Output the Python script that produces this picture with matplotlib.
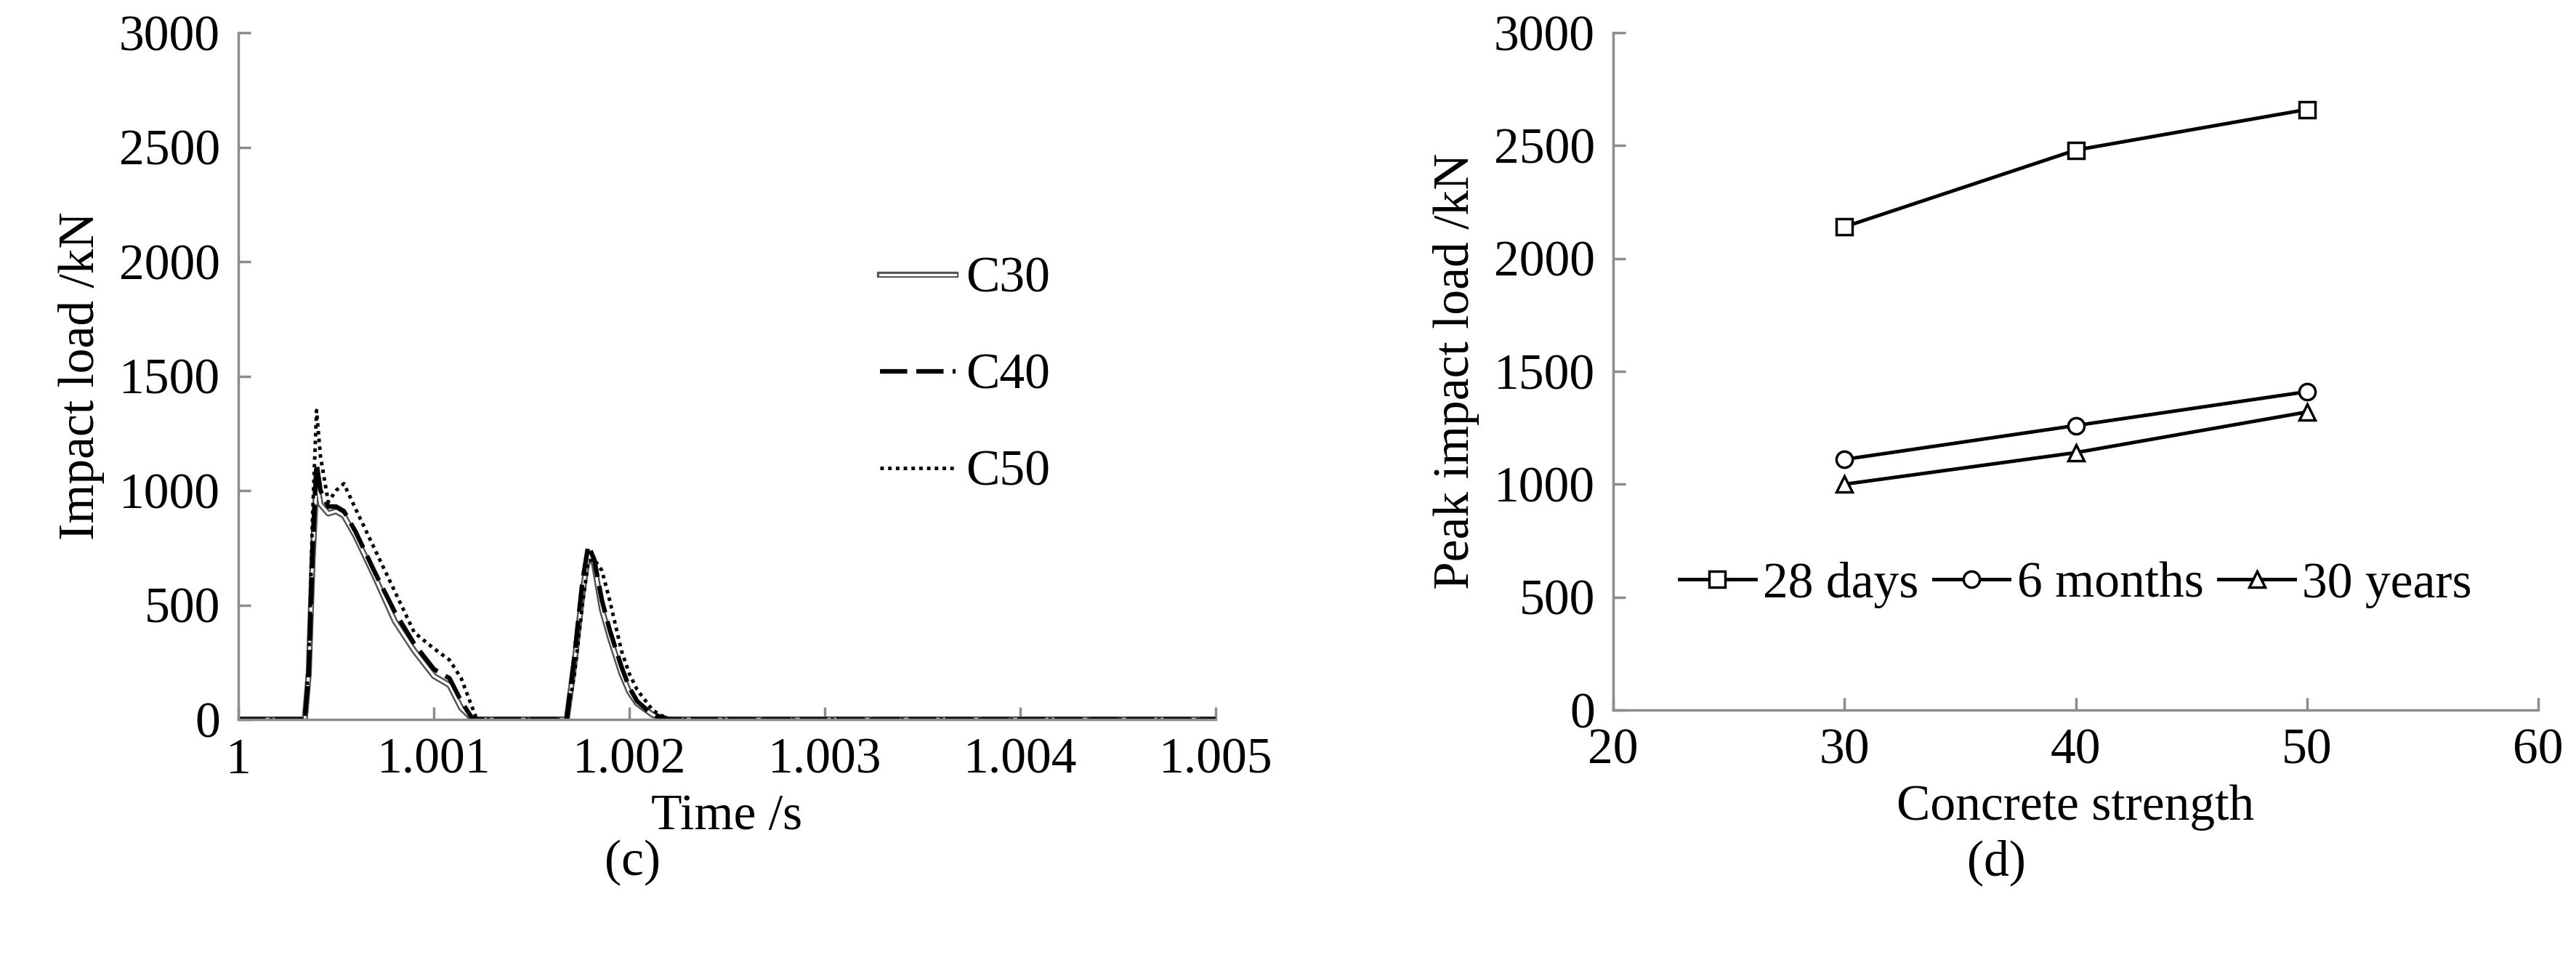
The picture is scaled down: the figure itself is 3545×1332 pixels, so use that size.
import matplotlib
matplotlib.use("Agg")
import matplotlib.pyplot as plt
import matplotlib.patheffects as pe

plt.rcParams['font.family'] = ['Liberation Serif', 'DejaVu Serif']
plt.rcParams['font.size'] = 50

# Left panel data (time in s, load in kN)
t_c30 = [1.0, 1.00034, 1.00036, 1.00038, 1.0004, 1.00042, 1.00046, 1.0005, 1.00054, 1.0006, 1.0007, 1.0008, 1.0009, 1.001, 1.00108, 1.00114, 1.0012, 1.0016, 1.00168, 1.00172, 1.00176, 1.00179, 1.00182, 1.00186, 1.0019, 1.00196, 1.002, 1.00204, 1.00212, 1.0022, 1.005]
f_c30 = [0, 0, 200, 700, 1050, 940, 900, 910, 890, 800, 620, 430, 300, 190, 150, 50, 0, 0, 0, 250, 550, 720, 680, 480, 360, 200, 120, 70, 20, 0, 0]
t_c40 = [1.0, 1.00034, 1.00036, 1.00038, 1.0004, 1.00042, 1.00046, 1.0005, 1.00054, 1.0006, 1.0007, 1.0008, 1.0009, 1.001, 1.00108, 1.00114, 1.0012, 1.0016, 1.00168, 1.00172, 1.00176, 1.00179, 1.00182, 1.00186, 1.0019, 1.00196, 1.002, 1.00204, 1.00212, 1.0022, 1.005]
f_c40 = [0, 0, 200, 750, 1120, 1000, 930, 930, 910, 820, 640, 470, 330, 220, 180, 80, 0, 0, 0, 280, 600, 760, 700, 520, 390, 230, 140, 80, 20, 0, 0]
t_c50 = [1.0, 1.00034, 1.00036, 1.00038, 1.0004, 1.00042, 1.00046, 1.0005, 1.00054, 1.0006, 1.0007, 1.0008, 1.0009, 1.001, 1.00108, 1.00114, 1.00122, 1.0016, 1.00168, 1.00172, 1.00176, 1.00179, 1.00182, 1.00186, 1.0019, 1.00196, 1.002, 1.00204, 1.00212, 1.0022, 1.005]
f_c50 = [0, 0, 250, 900, 1350, 1150, 950, 1000, 1030, 920, 740, 560, 380, 310, 260, 180, 0, 0, 0, 200, 500, 690, 700, 650, 520, 300, 200, 130, 40, 0, 0]

# Right panel data
strength = [30, 40, 50]
days28 = [2140, 2480, 2660]
months6 = [1110, 1260, 1410]
years30 = [1000, 1140, 1320]

fig = plt.figure(figsize=(35.45, 13.32), dpi=100)
gray = '#8c8c8c'

ax1 = fig.add_axes([328/3545, 1-990/1332, (1673-328)/3545, (990-45)/1332])
l1, = ax1.plot(t_c30, f_c30, color='white', lw=2.2,
               path_effects=[pe.Stroke(linewidth=6, foreground='#555555'), pe.Stroke(linewidth=2.2, foreground='white'), pe.Normal()], label='C30')
ax1.plot(t_c40, f_c40, color='black', lw=4.5, ls=(0, (6, 2)), label='C40')
ax1.plot(t_c50, f_c50, color='black', lw=3.5, ls=(0, (1, 1.2)), label='C50')
ax1.set_xlim(1.0, 1.005)
ax1.set_ylim(0, 3000)
ax1.set_xticks([1.0, 1.001, 1.002, 1.003, 1.004, 1.005])
ax1.set_xticklabels(['1', '1.001', '1.002', '1.003', '1.004', '1.005'])
ax1.set_yticks(range(0, 3001, 500))
ax1.set_xlabel('Time /s', labelpad=10)
ax1.set_ylabel('Impact load /kN', labelpad=14)
ax1.legend(loc='upper left', bbox_to_anchor=(0.61, 0.74), frameon=False, labelspacing=1.0,
           handlelength=1.5, handletextpad=0.2)

ax2 = fig.add_axes([2220/3545, 1-977/1332, (3493-2220)/3545, (977-45)/1332])
ax2.plot(strength, days28, color='black', lw=3.5, marker='s', ms=16, mfc='white', mec='black', mew=2.5, label='28 days')
ax2.plot(strength, months6, color='black', lw=3.5, marker='o', ms=16, mfc='white', mec='black', mew=2.5, label='6 months')
ax2.plot(strength, years30, color='black', lw=3.5, marker='^', ms=16, mfc='white', mec='black', mew=2.5, label='30 years')
ax2.set_xlim(20, 60)
ax2.set_ylim(0, 3000)
ax2.set_xticks([20, 30, 40, 50, 60])
ax2.set_yticks(range(0, 3001, 500))
ax2.set_xlabel('Concrete strength', labelpad=10)
ax2.set_ylabel('Peak impact load /kN', labelpad=14)
ax2.legend(loc='center', bbox_to_anchor=(0.5, 0.185), ncol=3, frameon=False,
           handlelength=1.5, handletextpad=0.15, columnspacing=0.3)

for ax in (ax1, ax2):
    for s in ('top', 'right'):
        ax.spines[s].set_visible(False)
    for s in ('left', 'bottom'):
        ax.spines[s].set_color(gray)
        ax.spines[s].set_linewidth(2.5)
    ax.tick_params(direction='in', length=12, width=2.5, color=gray, pad=18)

fig.text(870/3545, 1-1187/1332, '(c)', ha='center', va='center')
fig.text(2747/3545, 1-1187/1332, '(d)', ha='center', va='center')
fig.savefig('out.png', dpi=100, facecolor='white')
